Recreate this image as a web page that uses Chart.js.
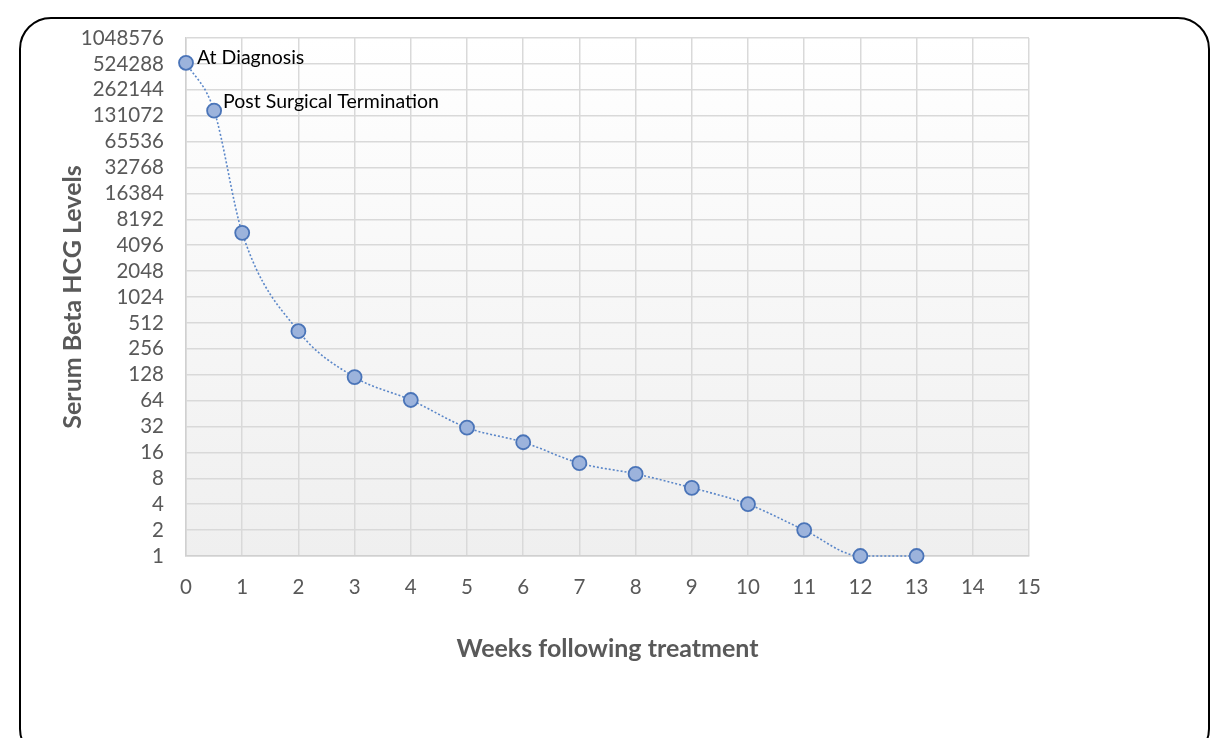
<!DOCTYPE html>
<html>
<head>
<meta charset="utf-8">
<script src="https://cdn.jsdelivr.net/npm/chart.js@4.4.1/dist/chart.umd.min.js"></script>
<style>
  html, body { margin: 0; padding: 0; background: #fff; overflow: hidden; }
  #wrap { position: relative; width: 1217px; height: 738px; }
  #frame {
    position: absolute; left: 19px; top: 17px; width: 1187px; height: 740px;
    border: 2.5px solid #000; border-radius: 32px; pointer-events: none;
  }
  canvas { position: absolute; left: 0; top: 0; }
</style>
</head>
<body>
<div id="wrap">
  <canvas id="myChart" width="1217" height="738"></canvas>
  <div id="frame"></div>
</div>
<script>
const weeks = [0, 0.5, 1, 2, 3, 4, 5, 6, 7, 8, 9, 10, 11, 12, 13];
const hcgLevels = [540000, 150000, 5700, 410, 120, 65, 31, 21, 12, 9, 6.2, 4, 2, 1, 1];
const pointNotes = ['At Diagnosis', 'Post Surgical Termination'];
const yTicks = [1, 2, 4, 8, 16, 32, 64, 128, 256, 512, 1024, 2048, 4096, 8192, 16384,
  32768, 65536, 131072, 262144, 524288, 1048576];

const FONT = 'Lato, "Open Sans", sans-serif';
const ctx = document.getElementById('myChart');

// light gradient behind the plot area
const plotBackground = {
  id: 'plotBackground',
  beforeDraw(chart) {
    const a = chart.chartArea;
    const c = chart.ctx;
    const g = c.createLinearGradient(0, a.top, 0, a.bottom);
    g.addColorStop(0, '#ffffff');
    g.addColorStop(1, '#efefef');
    c.save();
    c.fillStyle = g;
    c.fillRect(a.left, a.top, a.right - a.left, a.bottom - a.top);
    c.restore();
  }
};

// text next to the first two points
const pointText = {
  id: 'pointText',
  afterDatasetsDraw(chart) {
    const pts = chart.getDatasetMeta(0).data;
    const c = chart.ctx;
    c.save();
    c.font = '19.5px ' + FONT;
    c.fillStyle = '#000';
    c.textBaseline = 'middle';
    c.fillText(pointNotes[0], pts[0].x + 11, pts[0].y - 5);
    c.fillText(pointNotes[1], pts[1].x + 9, pts[1].y - 9);
    c.restore();
  }
};

new Chart(ctx, {
  type: 'line',
  data: {
    datasets: [{
      data: weeks.map((w, i) => ({ x: w, y: hcgLevels[i] })),
      borderColor: '#5b87c9',
      borderWidth: 1.6,
      borderDash: [2, 2],
      cubicInterpolationMode: 'monotone',
      clip: false,
      pointRadius: 7,
      pointBackgroundColor: '#9cb3dc',
      pointBorderColor: '#4a74b8',
      pointBorderWidth: 1.8
    }]
  },
  options: {
    responsive: false,
    animation: false,
    layout: { padding: { left: 52, right: 188, top: 38, bottom: 62 } },
    plugins: { legend: { display: false }, tooltip: { enabled: false } },
    scales: {
      x: {
        type: 'linear',
        min: 0,
        max: 15,
        afterFit(scale) { scale.height = 120; },
        grid: { color: '#d9d9d9', lineWidth: 1.5, drawTicks: false },
        border: { color: '#d0d0d0', width: 1.5 },
        ticks: { stepSize: 1, padding: 19, color: '#595959', font: { family: FONT, size: 20.5 } },
        title: {
          display: true,
          text: 'Weeks following treatment',
          color: '#595959',
          font: { family: FONT, size: 25, weight: 'bold' },
          padding: { top: 0, bottom: 12 }
        }
      },
      y: {
        type: 'logarithmic',
        min: 1,
        max: 1048576,
        afterFit(scale) { scale.width = 134; },
        afterBuildTicks(scale) { scale.ticks = yTicks.map(v => ({ value: v })); },
        grid: { color: '#d9d9d9', lineWidth: 1.5, drawTicks: false },
        border: { color: '#d0d0d0', width: 1.5 },
        ticks: {
          autoSkip: false,
          padding: 22,
          color: '#595959',
          font: { family: FONT, size: 20.5 },
          callback: v => String(v)
        },
        title: {
          display: true,
          text: 'Serum Beta HCG Levels',
          color: '#595959',
          font: { family: FONT, size: 25, weight: 'bold' },
          padding: { top: 6, bottom: 0 }
        }
      }
    }
  },
  plugins: [plotBackground, pointText]
});
</script>
</body>
</html>
